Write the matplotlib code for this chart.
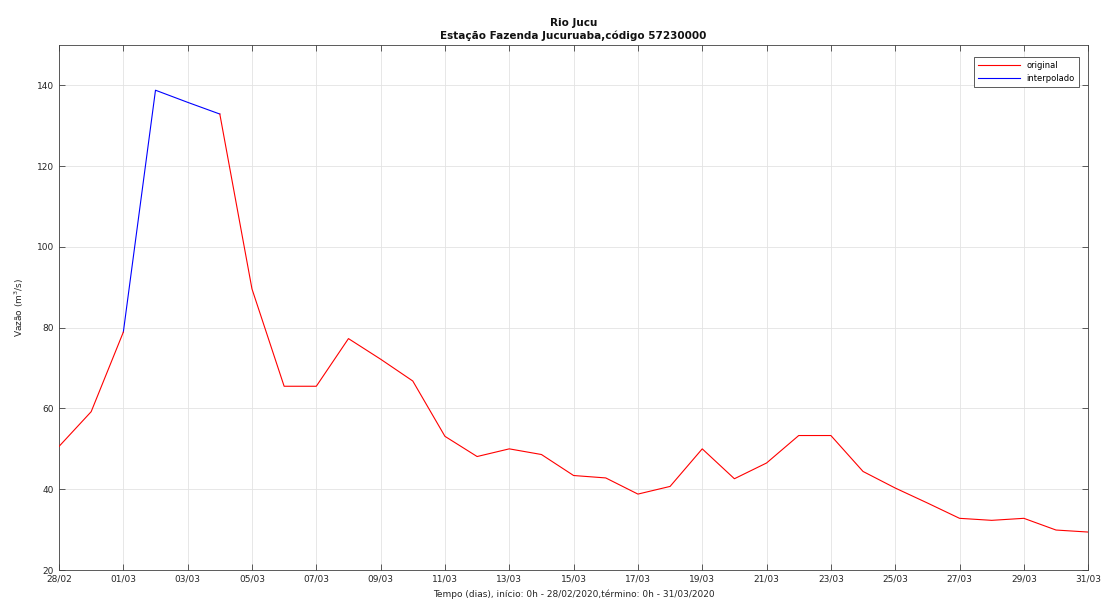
import matplotlib
matplotlib.use("Agg")
import matplotlib.pyplot as plt
import numpy as np
import pandas as pd

# Data (daily values, m3/s)
dates = pd.date_range("2020-02-28", "2020-03-31", freq="D")
original = [50.6, 59.2, 78.9, np.nan, np.nan, 132.9, 89.6, 65.5, 65.5, 77.3,
            72.2, 66.8, 53.1, 48.1, 50.0, 48.6, 43.4, 42.8, 38.8, 40.7,
            50.0, 42.6, 46.5, 53.3, 53.3, 44.4, 40.3, 36.6, 32.8, 32.3,
            32.8, 29.9, 29.4]
interpolado = [50.6, 59.2, 78.9, 138.8, 135.8, 132.9, 89.6, 65.5, 65.5, 77.3,
               72.2, 66.8, 53.1, 48.1, 50.0, 48.6, 43.4, 42.8, 38.8, 40.7,
               50.0, 42.6, 46.5, 53.3, 53.3, 44.4, 40.3, 36.6, 32.8, 32.3,
               32.8, 29.9, 29.4]
tick_dates = pd.date_range("2020-02-28", "2020-03-31", freq="2D")
tick_labels = [d.strftime("%d/%m") for d in tick_dates]
yticks = [20, 40, 60, 80, 100, 120, 140]

x = np.arange(len(dates))
tick_pos = [(d - dates[0]).days for d in tick_dates]

# show the interpolated series only around the gaps of the original one
orig_arr = np.array(original, dtype=float)
gap = np.isnan(orig_arr)
near_gap = gap | np.roll(gap, 1) | np.roll(gap, -1)
interp_show = np.where(near_gap, np.array(interpolado, dtype=float), np.nan)

plt.rcParams['font.family'] = ['DejaVu Sans']
fig = plt.figure(figsize=(11.07, 6.12), dpi=100)
ax = fig.add_axes([0.0533, 0.0686, 0.9297, 0.8579])

l_int, = ax.plot(x, interp_show, color="blue", lw=0.8, label="interpolado", zorder=3)
l_org, = ax.plot(x, orig_arr, color="red", lw=0.8, label="original", zorder=4)

ax.set_xlim(0, len(dates) - 1)
ax.set_ylim(20, 150)
ax.set_xticks(tick_pos)
ax.set_xticklabels(tick_labels)
ax.set_yticks(yticks)
ax.tick_params(direction="in", length=4, width=0.6, labelsize=6.5,
               top=True, right=True, colors="#404040", labelcolor="#262626")
ax.grid(True, color="#e3e3e3", lw=0.6)
ax.set_axisbelow(True)
for s in ax.spines.values():
    s.set_color("#404040")
    s.set_linewidth(0.6)

ax.set_xlabel("Tempo (dias), início: 0h - 28/02/2020,término: 0h - 31/03/2020",
              fontsize=6.5, color="#262626", labelpad=4)
ax.set_ylabel("Vazão (m$^3$/s)", fontsize=6.5, color="#262626", labelpad=8)
ax.set_title("Rio Jucu\nEstação Fazenda Jucuruaba,código 57230000",
             fontsize=7.5, fontweight="bold", color="#111111", pad=4, linespacing=1.3)

leg = ax.legend([l_org, l_int], ["original", "interpolado"],
                loc="upper right", bbox_to_anchor=(0.995, 0.985), fontsize=6,
                fancybox=False, edgecolor="#404040", framealpha=1,
                handlelength=5, borderpad=0.5, labelspacing=0.4)
leg.get_frame().set_linewidth(0.6)

fig.savefig("out.png", dpi=100)
